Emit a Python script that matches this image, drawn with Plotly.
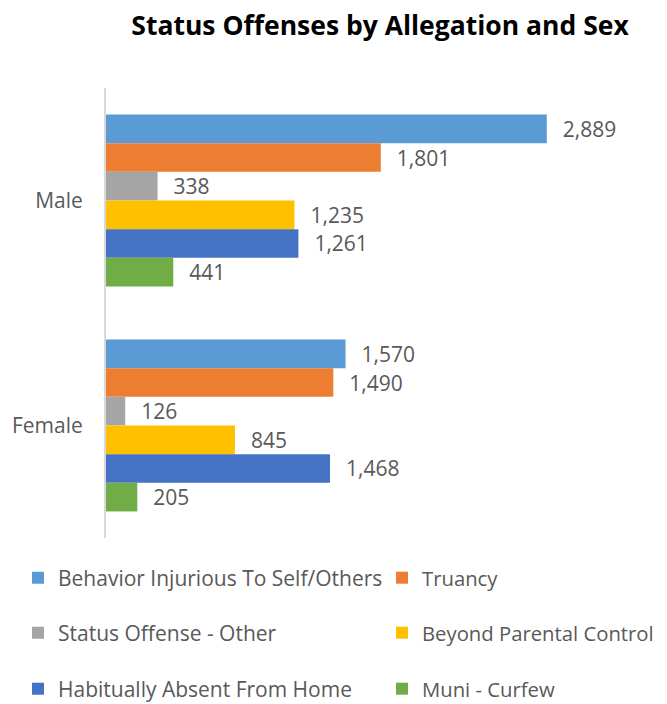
import plotly.graph_objects as go

categories = ["Male", "Female"]
series_names = [
    "Behavior Injurious To Self/Others",
    "Truancy",
    "Status Offense - Other",
    "Beyond Parental Control",
    "Habitually Absent From Home",
    "Muni - Curfew",
]
behavior_injurious = [2889, 1570]
truancy = [1801, 1490]
status_other = [338, 126]
beyond_parental = [1235, 845]
habitually_absent = [1261, 1468]
muni_curfew = [441, 205]
series_values = [behavior_injurious, truancy, status_other,
                 beyond_parental, habitually_absent, muni_curfew]
colors = ["#5B9BD5", "#ED7D31", "#A5A5A5", "#FFC000", "#4472C4", "#70AD47"]
legend_ids = ["legend", "legend2", "legend3", "legend4", "legend5", "legend6"]

FONT = "Open Sans"
GREY = "#595959"

fig = go.Figure()
for name, vals, col, lg in zip(series_names, series_values, colors, legend_ids):
    fig.add_trace(go.Bar(
        y=categories, x=vals, name=name, orientation="h",
        marker=dict(color=col, line=dict(width=0)),
        text=vals, texttemplate="\u00a0\u00a0\u200a%{x:,}", textposition="outside",
        textfont=dict(family=FONT, size=21, color=GREY),
        constraintext="none", cliponaxis=False, legend=lg,
    ))

# page body has an 8px margin; work in screenshot pixels and convert
OFF = 8
W, H = 667 - OFF, 704 - OFF
plot_left, plot_right, plot_top, plot_bottom = 106, 640, 88, 538
ml = plot_left - OFF
mr = W - (plot_right - OFF)
mt = plot_top - OFF
mb = H - (plot_bottom - OFF)
pw, ph = W - ml - mr, H - mt - mb

def lx(sx):
    return (sx - OFF - ml) / pw

def ly(sy):
    return (H - mb - (sy - OFF)) / ph

col_x = [18, 382]
col_font = [21, 20.3]
row_y = [578, 633, 689]
legends = {}
for i, lg in enumerate(legend_ids):
    r, c = divmod(i, 2)
    legends[lg] = dict(x=lx(col_x[c]), y=ly(row_y[r]),
                       orientation="h", xanchor="left", yanchor="middle",
                       font=dict(family=FONT, size=col_font[c], color=GREY),
                       bgcolor="rgba(0,0,0,0)", borderwidth=0)

fig.update_layout(
    width=W, height=H,
    margin=dict(l=ml, r=mr, t=mt, b=mb, autoexpand=False),
    paper_bgcolor="white", plot_bgcolor="white",
    barmode="group", bargap=0.236, bargroupgap=0,
    title=dict(text="<b>Status Offenses by Allegation and Sex</b>",
               x=(380 - OFF) / W, xanchor="center", y=1 - (26 - OFF) / H,
               yanchor="middle",
               font=dict(family=FONT, size=26.5, color="black")),
    xaxis=dict(range=[0, 3500], showgrid=False, showticklabels=False,
               zeroline=False, showline=False, ticks=""),
    yaxis=dict(autorange="reversed", showgrid=False, showline=True,
               linecolor="#D9D9D9", linewidth=2, ticks="",
               tickfont=dict(family=FONT, size=21, color=GREY),
               ticklabelstandoff=17),
    showlegend=True,
    **legends,
)

fig.write_html("out.html")
